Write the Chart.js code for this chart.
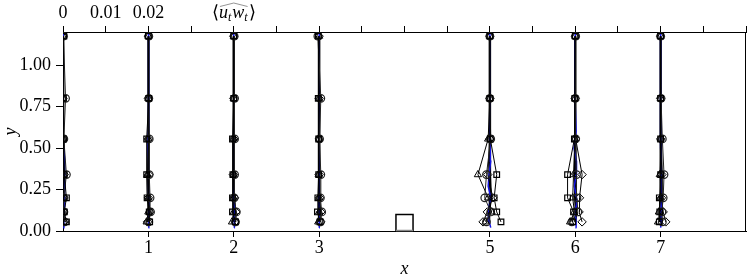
<!DOCTYPE html>
<html><head><meta charset="utf-8">
<script src="https://cdn.jsdelivr.net/npm/chart.js@4/dist/chart.umd.min.js"></script>
<style>html,body{margin:0;padding:0;background:#fff}</style>
</head><body>
<canvas id="c" width="747" height="280" style="width:747px;height:280px;display:block"></canvas>
<script>
// ---- data ----
const stations = [0, 1, 2, 3, 5, 6, 7];
const heights = [0.055, 0.115, 0.2, 0.34, 0.555, 0.8, 1.175];
const xTickValues = [1, 2, 3, 5, 6, 7];
const yTickValues = [0, 0.25, 0.5, 0.75, 1.0];
const topTickLabels = ['0', '0.01', '0.02'];
const obstacleX = [3.9, 3.9, 4.1, 4.1];
const obstacleY = [0, 0.1, 0.1, 0];

// <u_t w_t> per station (rows) and height (columns)
const squareUW = [
  [0.0008, 0.0003, 0.0008, 0.0003, 0.0001, 0.0001, 0.0002],
  [0.0003, 0.0002, -0.0003, -0.0004, -0.0004, 0.0001, 0.0000],
  [0.0004, -0.0003, -0.0003, -0.0002, -0.0003, 0.0000, 0.0000],
  [0.0002, -0.0004, -0.0003, -0.0001, -0.0001, -0.0002, -0.0002],
  [0.0026, 0.0016, 0.0010, 0.0016, 0.0001, 0.0000, 0.0000],
  [-0.0006, -0.0004, -0.0018, -0.0018, -0.0002, -0.0001, 0.0000],
  [-0.0003, -0.0002, -0.0003, 0.0000, 0.0000, 0.0000, 0.0000]
];
const circleUW = [
  [0.0004, 0.0002, 0.0002, 0.0008, 0.0002, 0.0006, 0.0001],
  [0.0001, 0.0005, 0.0004, 0.0002, 0.0002, 0.0001, 0.0001],
  [0.0004, 0.0006, 0.0001, 0.0002, 0.0002, 0.0002, 0.0001],
  [0.0003, 0.0006, 0.0003, 0.0004, 0.0001, 0.0004, -0.0003],
  [-0.0008, 0.0002, -0.0012, -0.0008, 0.0002, 0.0000, 0.0000],
  [-0.0008, 0.0006, 0.0004, 0.0003, 0.0001, 0.0000, 0.0001],
  [0.0004, 0.0003, 0.0006, 0.0008, 0.0004, 0.0001, 0.0000]
];
const diamondUW = [
  [0.0002, 0.0001, 0.0001, 0.0003, 0.0000, 0.0000, 0.0000],
  [-0.0002, 0.0004, 0.0000, 0.0001, 0.0000, 0.0000, 0.0000],
  [0.0003, 0.0005, 0.0002, -0.0001, 0.0000, 0.0000, 0.0000],
  [0.0004, 0.0004, 0.0001, 0.0000, 0.0000, 0.0000, 0.0000],
  [-0.0016, -0.0006, 0.0007, -0.0005, 0.0000, 0.0000, 0.0000],
  [0.0016, 0.0009, 0.0010, 0.0016, 0.0001, 0.0000, 0.0000],
  [0.0012, 0.0006, 0.0002, 0.0003, 0.0000, 0.0000, 0.0000]
];
const triangleUW = [
  [0.0001, 0.0000, 0.0000, 0.0001, 0.0000, 0.0000, 0.0000],
  [-0.0004, 0.0000, 0.0000, -0.0002, 0.0000, 0.0000, 0.0000],
  [-0.0004, 0.0000, 0.0000, 0.0000, 0.0000, 0.0000, 0.0000],
  [-0.0002, 0.0000, 0.0000, -0.0001, 0.0000, 0.0000, 0.0000],
  [-0.0010, 0.0004, -0.0004, -0.0028, -0.0004, 0.0000, 0.0000],
  [-0.0012, -0.0002, -0.0006, -0.0004, -0.0001, 0.0000, 0.0000],
  [-0.0006, -0.0004, 0.0000, -0.0002, 0.0000, 0.0000, 0.0000]
];
const blackUW = [
  [0.0001, 0.0001, 0.0001, 0.0003, 0.0001, 0.0000, 0.0000],
  [0.0000, 0.0000, 0.0001, 0.0000, 0.0000, 0.0001, 0.0000],
  [0.0000, 0.0001, 0.0000, 0.0000, 0.0000, 0.0000, 0.0000],
  [0.0000, 0.0000, 0.0000, 0.0000, 0.0000, 0.0000, 0.0000],
  [0.0000, -0.0002, 0.0002, 0.0000, 0.0000, 0.0000, 0.0000],
  [0.0000, 0.0002, 0.0000, 0.0000, 0.0000, 0.0000, 0.0000],
  [0.0000, 0.0001, 0.0002, 0.0002, 0.0000, 0.0000, 0.0000]
];
const blueHeights = [0.02, 0.06, 0.1, 0.15, 0.2, 0.27, 0.34, 0.42, 0.5, 0.6, 0.75, 0.9, 1.05, 1.19];
const blueUW = [
  [0.0001, 0.0002, 0.0002, 0.0003, 0.0003, 0.0004, 0.0004, 0.0004, 0.0002, 0.0001, 0.0001, 0.0000, 0.0000, 0.0000],
  [0.0000, 0.0001, 0.0001, 0.0002, 0.0001, 0.0001, 0.0000, 0.0000, -0.0001, 0.0000, 0.0001, 0.0001, 0.0000, 0.0000],
  [0.0001, 0.0002, 0.0001, 0.0001, 0.0000, 0.0001, 0.0001, 0.0000, 0.0000, 0.0001, 0.0000, 0.0001, 0.0000, 0.0000],
  [0.0000, 0.0001, 0.0001, 0.0000, 0.0001, 0.0000, 0.0001, 0.0000, 0.0000, 0.0000, 0.0000, 0.0000, 0.0000, 0.0000],
  [0.0002, -0.0002, -0.0004, -0.0002, 0.0002, -0.0004, -0.0002, 0.0002, 0.0001, 0.0000, 0.0000, 0.0000, 0.0000, 0.0000],
  [0.0003, 0.0002, 0.0000, 0.0002, 0.0003, -0.0002, 0.0002, 0.0003, -0.0003, 0.0002, 0.0000, 0.0000, 0.0000, 0.0000],
  [0.0000, 0.0002, 0.0001, 0.0002, 0.0001, 0.0002, 0.0001, 0.0002, 0.0000, 0.0000, 0.0000, 0.0000, 0.0000, 0.0000]
];

// ---- chart ----
const UW_TO_X = 50; // x-axis units per unit of <u_t w_t> (0.01 -> 0.5)
const FONT = 'Liberation Serif';

function profile(values, hs, st) {
  return hs.map((h, i) => ({ x: st + UW_TO_X * values[i], y: h }));
}
const datasets = [];
function addSeries(table, hs, style) {
  stations.forEach((st, k) => {
    datasets.push(Object.assign({
      data: profile(table[k], hs, st),
      showLine: true, xAxisID: 'x', yAxisID: 'y'
    }, style));
  });
}
const open = 'rgba(0,0,0,0)';
// Top-most first (Chart.js draws dataset 0 last)
addSeries(squareUW, heights, { pointStyle: 'rect', pointRadius: 4, borderColor: '#000', backgroundColor: open, borderWidth: 1, pointBorderWidth: 1.2 });
addSeries(circleUW, heights, { pointStyle: 'circle', pointRadius: 3.8, borderColor: '#222', backgroundColor: open, borderWidth: 1, pointBorderWidth: 1.2 });
addSeries(diamondUW, heights, { pointStyle: 'rectRot', pointRadius: 4.2, borderColor: '#000', backgroundColor: open, borderWidth: 1, pointBorderWidth: 1 });
addSeries(triangleUW, heights, { pointStyle: 'triangle', pointRadius: 4.2, borderColor: '#000', backgroundColor: open, borderWidth: 1, pointBorderWidth: 1 });
addSeries(blueUW, blueHeights, { pointRadius: 0, borderColor: '#1414e6', borderWidth: 1.5 });
addSeries(blackUW, heights, { pointRadius: 0, borderColor: '#000', borderWidth: 2.5 });
datasets.push({
  data: obstacleX.map((x, i) => ({ x, y: obstacleY[i] })),
  showLine: true, pointRadius: 0, borderColor: '#000', borderWidth: 1.5, xAxisID: 'x', yAxisID: 'y'
});

const tickFont = { family: FONT, size: 18 };

const overlay = {
  id: 'overlay',
  afterDraw(chart) {
    const ctx = chart.ctx, a = chart.chartArea;
    ctx.save();
    ctx.strokeStyle = '#000';
    ctx.lineWidth = 1;
    ctx.beginPath();
    ctx.moveTo(a.right - 0.5, a.top);
    ctx.lineTo(a.right - 0.5, a.bottom);
    ctx.stroke();
    const xs = chart.scales.x, ys = chart.scales.y;
    ctx.strokeStyle = '#888';
    ctx.lineWidth = 1.5;
    ctx.beginPath();
    ctx.moveTo(xs.getPixelForValue(obstacleX[0]), ys.getPixelForValue(0) - 0.5);
    ctx.lineTo(xs.getPixelForValue(obstacleX[3]), ys.getPixelForValue(0) - 0.5);
    ctx.stroke();
    // top label <u_t w_t> with wide hat
    const cx = chart.scales.x2.getPixelForValue(2);
    const by = 18;
    ctx.fillStyle = '#000';
    ctx.textBaseline = 'alphabetic';
    const big = '18px ' + FONT, it = 'italic 18px ' + FONT, sub = 'italic 12px ' + FONT;
    const parts = [
      { t: '\u27E8', f: big, dy: 0 },
      { t: 'u', f: it, dy: 0 },
      { t: 't', f: sub, dy: 3 },
      { t: 'w', f: it, dy: 0 },
      { t: 't', f: sub, dy: 3 },
      { t: '\u27E9', f: big, dy: 0 }
    ];
    let total = 0;
    parts.forEach(p => { ctx.font = p.f; p.w = ctx.measureText(p.t).width + (p.f === sub ? 1 : 0); total += p.w; });
    let x = cx - total / 2;
    let hx0 = 0, hx1 = 0;
    parts.forEach((p, i) => {
      ctx.font = p.f;
      if (i === 1) hx0 = x;
      ctx.fillText(p.t, x, by + p.dy);
      x += p.w;
      if (i === 4) hx1 = x;
    });
    ctx.lineWidth = 0.9;
    ctx.beginPath();
    ctx.moveTo(hx0 + 1, 6.5);
    ctx.lineTo((hx0 + hx1) / 2, 3);
    ctx.lineTo(hx1 - 1, 6.5);
    ctx.stroke();
    ctx.restore();
  }
};

function fixH(h) { return s => { s.height = h; s.paddingLeft = 0; s.paddingRight = 0; }; }

new Chart(document.getElementById('c'), {
  type: 'scatter',
  data: { datasets },
  plugins: [overlay],
  options: {
    responsive: false,
    animation: false,
    devicePixelRatio: 1,
    layout: { autoPadding: false, padding: { left: 0, right: 1, top: 0, bottom: 0 } },
    plugins: { legend: { display: false }, tooltip: { enabled: false } },
    scales: {
      x: {
        type: 'linear', position: 'bottom', min: 0, max: 8,
        afterBuildTicks: s => { s.ticks = xTickValues.map(v => ({ value: v })); },
        afterFit: fixH(49),
        ticks: { font: tickFont, color: '#000', padding: 0, maxRotation: 0, autoSkip: false },
        grid: { drawOnChartArea: false, tickLength: 6, color: '#000', lineWidth: 1 },
        border: { color: '#000', width: 1 },
        title: { display: true, text: 'x', color: '#000', font: { family: FONT, size: 18, style: 'italic' }, padding: { top: 0, bottom: 0 } }
      },
      x2: {
        type: 'linear', position: 'top', min: 0, max: 8,
        afterBuildTicks: s => { const t = []; for (let i = 0; i <= 16; i++) t.push({ value: i * 0.5 }); s.ticks = t; },
        afterFit: fixH(32),
        ticks: {
          font: tickFont, color: '#000', padding: 2, maxRotation: 0, autoSkip: false,
          callback: v => { const i = Math.round(v / 0.5); return topTickLabels[i] !== undefined ? topTickLabels[i] : ''; }
        },
        grid: { drawOnChartArea: false, tickLength: 6, color: '#000', lineWidth: 1 },
        border: { color: '#000', width: 1 }
      },
      y: {
        type: 'linear', position: 'left', min: 0, max: 1.2,
        afterBuildTicks: s => { s.ticks = yTickValues.map(v => ({ value: v })); },
        afterFit: s => { s.width = 63; s.paddingTop = 0; s.paddingBottom = 0; },
        ticks: { font: tickFont, color: '#000', padding: 5, callback: v => v.toFixed(2) },
        grid: { drawOnChartArea: false, tickLength: 7, color: '#000', lineWidth: 1 },
        border: { color: '#000', width: 1 },
        title: { display: true, text: 'y', color: '#000', font: { family: FONT, size: 18, style: 'italic' }, padding: { top: 0, bottom: 0 } }
      }
    }
  }
});
</script>
</body></html>
